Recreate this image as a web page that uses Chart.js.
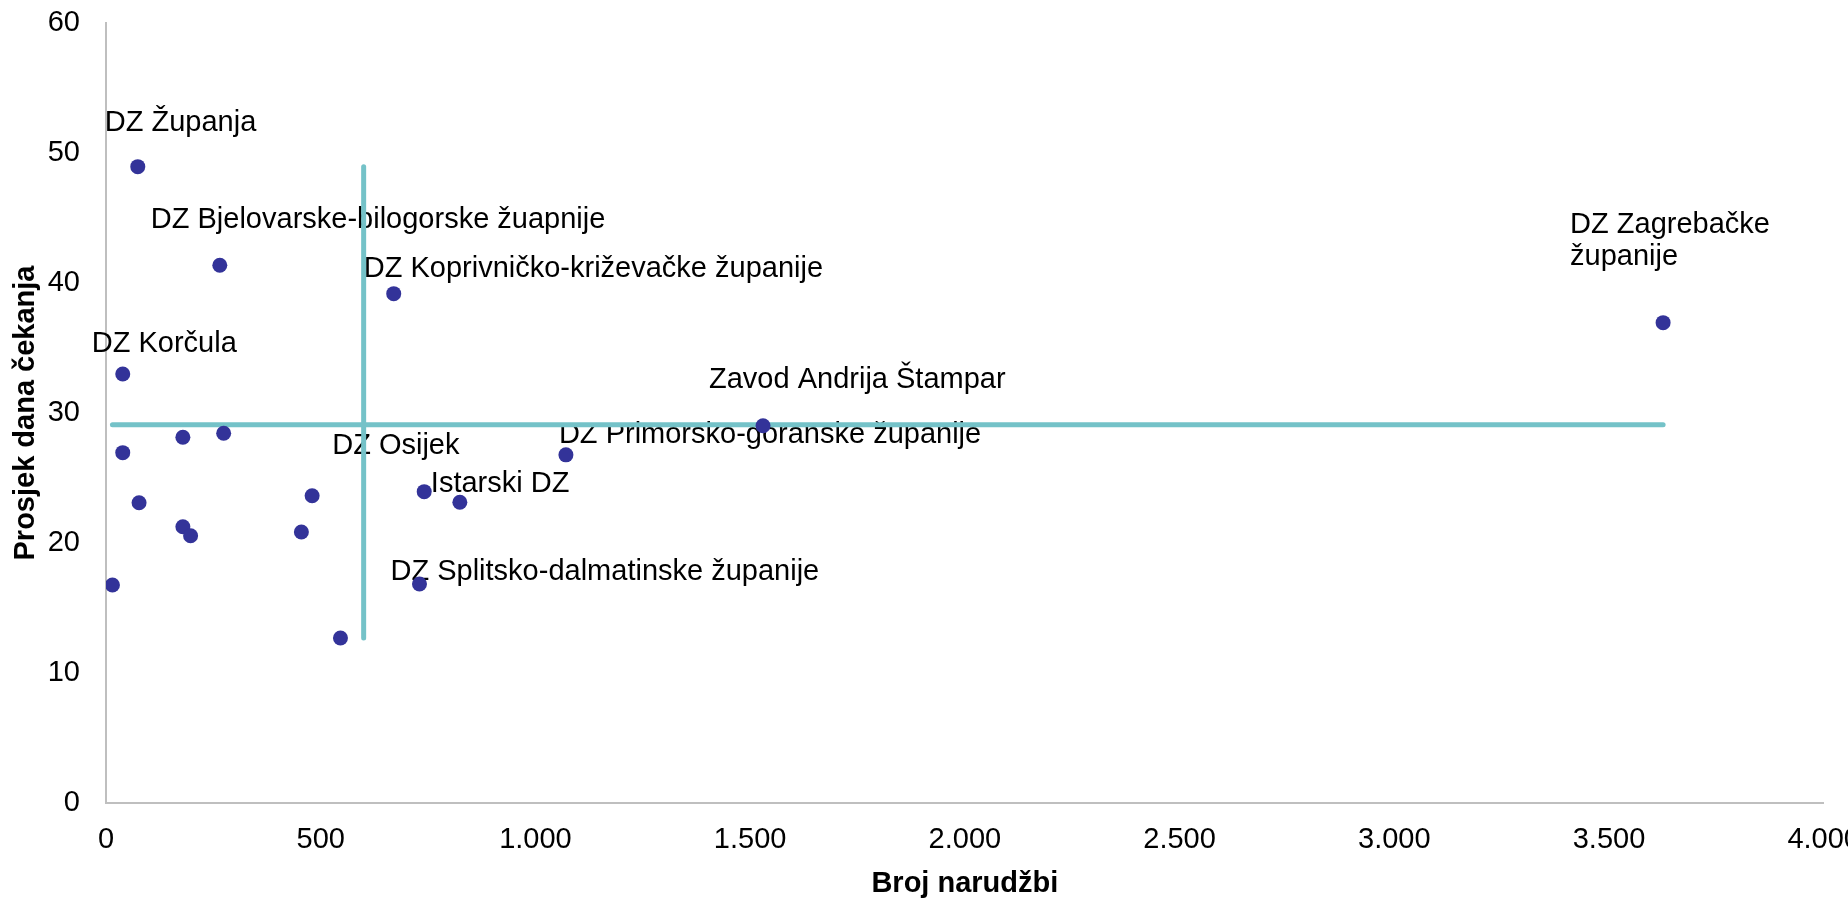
<!DOCTYPE html>
<html>
<head>
<meta charset="utf-8">
<script src="https://cdn.jsdelivr.net/npm/chart.js@4"></script>
<style>
html, body { margin: 0; padding: 0; background: #ffffff; overflow: hidden; }
#wrap { position: relative; width: 1880px; height: 900px; }
</style>
</head>
<body>
<div id="wrap"><canvas id="chart" width="1880" height="900"></canvas></div>
<script>
// ---- data ----
const categories = [
  'DZ Županja',
  'DZ Bjelovarske-bilogorske žuapnije',
  'DZ Koprivničko-križevačke županije',
  'DZ Korčula',
  'Zavod Andrija Štampar',
  ['DZ Zagrebačke', 'županije'],
  'DZ Primorsko-goranske županije',
  'DZ Osijek',
  'Istarski DZ',
  'DZ Splitsko-dalmatinske županije',
  '', '', '', '', '', '', '', '', '', ''
];
const orders   = [74, 265, 670, 39, 1530, 3626, 1071, 741, 824, 730, 39, 179, 274, 77, 179, 197, 480, 455, 15, 546];
const waitDays = [48.95, 41.37, 39.18, 33.0, 29.02, 36.95, 26.78, 23.95, 23.13, 16.85, 26.95, 28.13, 28.44, 23.1, 21.25, 20.56, 23.64, 20.85, 16.77, 12.69];
const xTicks = [0, 500, 1000, 1500, 2000, 2500, 3000, 3500, 4000];
const yTicks = [0, 10, 20, 30, 40, 50, 60];
const refOrders = 600;   // vertical reference line (orders)
const refWait = 29.1;    // horizontal reference line (days)

// ---- presentation ----
const FONT = '"Liberation Sans", Arial, sans-serif';
const FS = 29;
const DOT = '#333399';
const TEAL = '#74c2c8';
const AXIS = '#bfbfbf';

// label placement relative to each point (text left, first baseline)
const labelOffsets = [
  [-33, -36], [-69, -37], [-30, -17], [-31, -22], [-54, -38],
  [-93, -90], [-7, -12], [-92, -38], [-29, -10], [-29, -4],
  null, null, null, null, null, null, null, null, null, null
];

const fmt = v => String(v).replace(/\B(?=(\d{3})+(?!\d))/g, '.');

const pointLabels = {
  id: 'pointLabels',
  beforeDatasetsDraw(chart, args, opts) {
    const meta = chart.getDatasetMeta(0);
    const ctx = chart.ctx;
    ctx.save();
    ctx.font = FS + 'px ' + FONT;
    ctx.fillStyle = '#000000';
    ctx.textAlign = 'left';
    ctx.textBaseline = 'alphabetic';
    meta.data.forEach((el, i) => {
      const text = categories[i];
      const off = opts.offsets[i];
      if (!text || !off) return;
      const lines = Array.isArray(text) ? text : [text];
      lines.forEach((ln, k) => {
        ctx.fillText(ln, el.x + off[0], el.y + off[1] + k * opts.lineGap);
      });
    });
    ctx.restore();
  }
};

const minX = Math.min(...orders), maxX = Math.max(...orders);
const minY = Math.min(...waitDays), maxY = Math.max(...waitDays);

new Chart(document.getElementById('chart'), {
  type: 'scatter',
  data: {
    datasets: [
      {
        label: 'Domovi zdravlja',
        data: orders.map((x, i) => ({ x: x, y: waitDays[i] })),
        backgroundColor: DOT,
        borderWidth: 0,
        pointRadius: 7.5,
        pointHoverRadius: 7.5,
        order: 1
      },
      {
        label: 'Prosjek čekanja',
        data: [{ x: minX, y: refWait }, { x: maxX, y: refWait }],
        showLine: true,
        borderColor: TEAL,
        borderWidth: 5,
        borderCapStyle: 'round',
        pointRadius: 0,
        order: 2
      },
      {
        label: 'Prosjek narudžbi',
        data: [{ x: refOrders, y: minY }, { x: refOrders, y: maxY }],
        showLine: true,
        borderColor: TEAL,
        borderWidth: 5,
        borderCapStyle: 'round',
        pointRadius: 0,
        order: 2
      }
    ]
  },
  options: {
    responsive: false,
    animation: false,
    layout: { padding: { top: 23, right: 53, bottom: 0, left: 0 } },
    plugins: {
      legend: { display: false },
      tooltip: { enabled: false },
      pointLabels: { offsets: labelOffsets, lineGap: 32 }
    },
    scales: {
      x: {
        type: 'linear',
        min: xTicks[0],
        max: xTicks[xTicks.length - 1],
        afterBuildTicks: axis => { axis.ticks = xTicks.map(v => ({ value: v })); },
        afterFit: s => { s.height = 97; s.paddingTop = 0; s.paddingBottom = 0; },
        grid: { display: false, drawTicks: false },
        border: { display: true, color: AXIS, width: 2 },
        ticks: {
          padding: 20,
          color: '#000000',
          maxRotation: 0,
          autoSkip: false,
          font: { family: FONT, size: FS },
          callback: v => fmt(v)
        },
        title: {
          display: true,
          text: 'Broj narudžbi',
          color: '#000000',
          font: { family: FONT, size: FS, weight: 'bold' },
          padding: { top: 0, bottom: -1 }
        }
      },
      y: {
        type: 'linear',
        min: yTicks[0],
        max: yTicks[yTicks.length - 1],
        afterBuildTicks: axis => { axis.ticks = yTicks.map(v => ({ value: v })); },
        afterFit: s => { s.width = 106; s.paddingTop = 0; s.paddingBottom = 0; },
        grid: { display: false, drawTicks: false },
        border: { display: true, color: AXIS, width: 2 },
        ticks: {
          padding: 26,
          color: '#000000',
          font: { family: FONT, size: FS },
          callback: v => fmt(v)
        },
        title: {
          display: true,
          text: 'Prosjek dana čekanja',
          color: '#000000',
          font: { family: FONT, size: FS, weight: 'bold' },
          padding: { top: 9, bottom: 0 }
        }
      }
    }
  },
  plugins: [pointLabels]
});
</script>
</body>
</html>
